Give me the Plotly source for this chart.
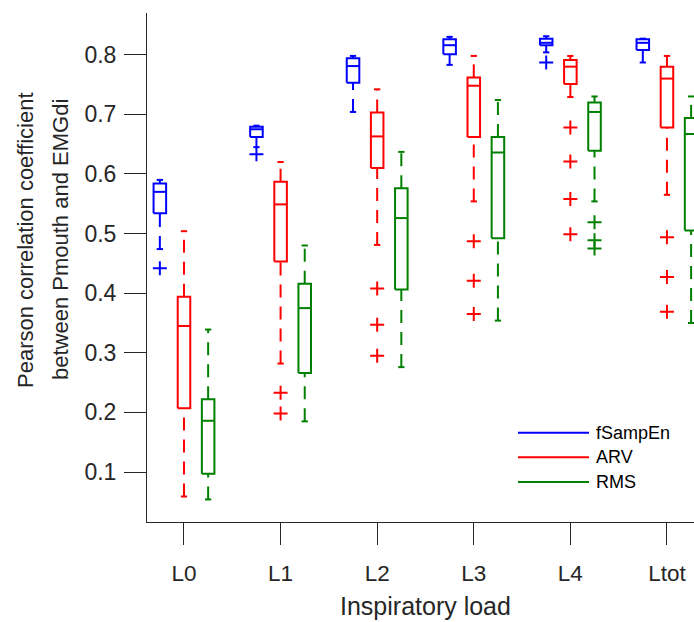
import plotly.graph_objects as go

loads = ["L0", "L1", "L2", "L3", "L4", "Ltot"]
series_names = ["fSampEn", "ARV", "RMS"]
series_colors = ["#0000ff", "#ff0000", "#008000"]

# fSampEn box statistics per load
fs_upper = [0.590, 0.681, 0.798, 0.830, 0.831, 0.827]
fs_q3 = [0.584, 0.679, 0.794, 0.826, 0.827, 0.826]
fs_med = [0.570, 0.675, 0.781, 0.816, 0.820, 0.820]
fs_q1 = [0.534, 0.662, 0.753, 0.801, 0.816, 0.808]
fs_lower = [0.474, 0.645, 0.704, 0.783, 0.804, 0.787]
fs_out = [[0.442], [0.633], [], [], [0.787], []]

# ARV box statistics per load
arv_upper = [0.504, 0.620, 0.742, 0.798, 0.798, 0.798]
arv_q3 = [0.394, 0.587, 0.703, 0.762, 0.791, 0.780]
arv_med = [0.345, 0.549, 0.663, 0.748, 0.780, 0.760]
arv_q1 = [0.207, 0.453, 0.610, 0.662, 0.751, 0.678]
arv_lower = [0.059, 0.282, 0.481, 0.554, 0.729, 0.565]
arv_out = [[], [0.233, 0.198], [0.408, 0.347, 0.295], [0.487, 0.421, 0.365],
           [0.678, 0.621, 0.558, 0.499], [0.494, 0.427, 0.369]]

# RMS box statistics per load
rms_upper = [0.339, 0.480, 0.637, 0.724, 0.730, 0.730]
rms_q3 = [0.222, 0.416, 0.576, 0.662, 0.720, 0.694]
rms_med = [0.186, 0.375, 0.526, 0.636, 0.704, 0.667]
rms_q1 = [0.097, 0.266, 0.406, 0.492, 0.639, 0.505]
rms_lower = [0.054, 0.185, 0.276, 0.354, 0.554, 0.350]
rms_out = [[], [], [], [], [0.519, 0.489, 0.475], []]

y_tick_vals = [0.1, 0.2, 0.3, 0.4, 0.5, 0.6, 0.7, 0.8]

stats = [
    (fs_upper, fs_q3, fs_med, fs_q1, fs_lower, fs_out),
    (arv_upper, arv_q3, arv_med, arv_q1, arv_lower, arv_out),
    (rms_upper, rms_q3, rms_med, rms_q1, rms_lower, rms_out),
]
offsets = [-0.25, 0.0, 0.25]
box_w = 0.13
cap_w = 0.065
LW = 2

fig = go.Figure()

for s, (name, col) in enumerate(zip(series_names, series_colors)):
    up, q3, med, q1, lo, out = stats[s]
    bx, by, mx, my, wx, wy, cx, cy, ox, oy = [], [], [], [], [], [], [], [], [], []
    for i in range(len(loads)):
        c = i + 1 + offsets[s]
        l, r = c - box_w / 2, c + box_w / 2
        bx += [l, r, r, l, l, None]
        by += [q1[i], q1[i], q3[i], q3[i], q1[i], None]
        mx += [l, r, None]
        my += [med[i], med[i], None]
        # upper whisker from box top, lower whisker from lower adjacent value
        wx += [c, c, None, c, c, None]
        wy += [q3[i], up[i], None, lo[i], q1[i], None]
        cx += [c - cap_w / 2, c + cap_w / 2, None, c - cap_w / 2, c + cap_w / 2, None]
        cy += [up[i], up[i], None, lo[i], lo[i], None]
        for v in out[i]:
            ox.append(c)
            oy.append(v)
    fig.add_trace(go.Scatter(x=wx, y=wy, mode="lines", showlegend=False, hoverinfo="skip",
                             line=dict(color=col, width=LW, dash="13px,9px")))
    fig.add_trace(go.Scatter(x=cx, y=cy, mode="lines", showlegend=False, hoverinfo="skip",
                             line=dict(color=col, width=LW)))
    fig.add_trace(go.Scatter(x=bx, y=by, mode="lines", showlegend=False, name=name,
                             line=dict(color=col, width=LW)))
    fig.add_trace(go.Scatter(x=mx, y=my, mode="lines", showlegend=False, hoverinfo="skip",
                             line=dict(color=col, width=LW)))
    fig.add_trace(go.Scatter(x=ox, y=oy, mode="markers", showlegend=False,
                             marker=dict(symbol="cross-thin", size=10, color=col,
                                         line=dict(color=col, width=2))))

FONT = "Liberation Sans, Arial, sans-serif"
TXT = "#262626"

# manual legend (line samples + labels)
L, T, PW, PH = 147, 13, 547, 509
def px(xp):
    return (xp - L) / PW
def py(yp):
    return (T + PH - yp) / PH

shapes = []
annotations = []
for k, (name, col) in enumerate(zip(series_names, series_colors)):
    yy = 432.7 + k * 24.6
    shapes.append(dict(type="line", xref="paper", yref="paper", x0=px(518), x1=px(589),
                       y0=py(yy), y1=py(yy), line=dict(color=col, width=2)))
    annotations.append(dict(xref="paper", yref="paper", x=px(594), y=py(yy), text=name,
                            showarrow=False, xanchor="left", yanchor="middle",
                            font=dict(family=FONT, size=18, color="#000000")))

# y axis title (two lines)
annotations.append(dict(xref="paper", yref="paper", x=px(25), y=py(240),
                        text="Pearson correlation coefficient", textangle=-90,
                        showarrow=False, xanchor="center", yanchor="middle",
                        font=dict(family=FONT, size=22, color=TXT)))
annotations.append(dict(xref="paper", yref="paper", x=px(60), y=py(240),
                        text="between Pmouth and EMGdi", textangle=-90,
                        showarrow=False, xanchor="center", yanchor="middle",
                        font=dict(family=FONT, size=22, color=TXT)))
# x axis title
annotations.append(dict(xref="paper", yref="paper", x=px(425), y=py(606),
                        text="Inspiratory load", showarrow=False,
                        xanchor="center", yanchor="middle",
                        font=dict(family=FONT, size=25, color=TXT)))

fig.update_layout(
    width=694, height=622,
    margin=dict(l=L, r=0, t=T, b=622 - T - PH),
    plot_bgcolor="white", paper_bgcolor="white",
    showlegend=False,
    shapes=shapes, annotations=annotations,
    font=dict(family=FONT, size=22, color=TXT),
)
fig.update_xaxes(range=[0.617, 6.28], tickvals=list(range(1, len(loads) + 1)), ticktext=loads,
                 ticks="outside", ticklen=22, tickwidth=1, tickcolor=TXT,
                 showline=True, linecolor=TXT, linewidth=1, showgrid=False, zeroline=False,
                 ticklabelstandoff=9,
                 tickfont=dict(family=FONT, size=22.5, color=TXT), fixedrange=True)
fig.update_yaxes(range=[0.0162, 0.870], tickvals=y_tick_vals, ticktext=[f"{v:.1f}" for v in y_tick_vals],
                 ticks="outside", ticklen=22, tickwidth=1, tickcolor=TXT,
                 showline=True, linecolor=TXT, linewidth=1, showgrid=False, zeroline=False,
                 ticklabelstandoff=3,
                 tickfont=dict(family=FONT, size=23, color=TXT), fixedrange=True)

fig.write_html("out.html")
